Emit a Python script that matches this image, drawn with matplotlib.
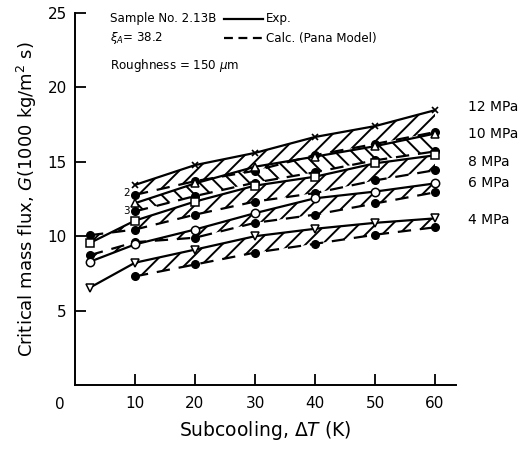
import matplotlib
matplotlib.use("Agg")
import matplotlib.pyplot as plt
import numpy as np

plt.rcParams['font.family'] = ['DejaVu Sans']
plt.rcParams['hatch.linewidth'] = 1.4

# ── Data ──────────────────────────────────────────────────────────────────────
DT_LOW = [2.5, 10, 20, 30, 40, 50, 60]   # subcooling, K (runs starting near 0)
DT_HIGH = [10, 20, 30, 40, 50, 60]       # subcooling, K (runs starting at 10)

# Experimental values (open markers, solid lines), G in 1000 kg/m2 s
EXP_12 = [13.45, 14.78, 15.6, 16.67, 17.4, 18.47]
EXP_10 = [12.22, 13.55, 14.67, 15.35, 16.05, 16.9]
EXP_8 = [9.55, 11.05, 12.33, 13.4, 14.0, 14.9, 15.44]
EXP_6 = [8.29, 9.45, 10.45, 11.55, 12.55, 13.0, 13.55]
EXP_4 = [6.55, 8.22, 9.1, 10.0, 10.5, 10.9, 11.2]

# Calculated values, Pana model (filled circles, dashed lines)
CALC_12 = [12.78, 13.7, 14.4, 15.45, 16.2, 17.0]
CALC_10 = [11.67, 12.7, 13.6, 14.3, 15.1, 15.7]
CALC_8 = [10.07, 10.45, 11.45, 12.33, 12.9, 13.75, 14.44]
CALC_6 = [8.73, 9.6, 9.9, 10.9, 11.45, 12.2, 12.95]
CALC_4 = [7.3, 8.1, 8.9, 9.49, 10.1, 10.6]

LABELS = ["12 MPa", "10 MPa", "8 MPa", "6 MPa", "4 MPa"]
LABEL_Y = [18.7, 16.9, 15.0, 13.6, 11.1]

# ── Figure ────────────────────────────────────────────────────────────────────
fig = plt.figure(figsize=(5.27, 4.51), dpi=100, facecolor="white")
ax = fig.add_axes([0.1423, 0.1463, 0.723, 0.8248])

series = [
    (DT_HIGH, EXP_12, DT_HIGH, CALC_12, "x", "//"),
    (DT_HIGH, EXP_10, DT_HIGH, CALC_10, "^", "\\\\"),
    (DT_LOW, EXP_8, DT_LOW, CALC_8, "s", "//"),
    (DT_LOW, EXP_6, DT_LOW, CALC_6, "o", "//"),
    (DT_LOW, EXP_4, DT_HIGH, CALC_4, "v", "//"),
]

for dt_e, exp, dt_c, calc, mk, hatch in series:
    # hatched band only where both curves exist
    n = len(dt_c)
    ax.fill_between(dt_e[-n:], exp[-n:], calc, facecolor="none",
                    edgecolor="black", hatch=hatch, linewidth=0)
    ax.plot(dt_e, exp, color="black", lw=1.6, zorder=3)
    ax.plot(dt_c, calc, color="black", lw=1.6, ls=(0, (6, 4)), zorder=3)
    ax.plot(dt_c, calc, ls="none", marker="o", ms=5.5, color="black", zorder=4)
    if mk == "x":
        ax.plot(dt_e, exp, ls="none", marker="x", ms=5, mew=1.2,
                color="black", zorder=5)
    else:
        ax.plot(dt_e, exp, ls="none", marker=mk, ms=6, mfc="white",
                mec="black", mew=1.1, zorder=5)

for lab, y in zip(LABELS, LABEL_Y):
    ax.text(65.5, y, lab, fontsize=10, va="center", ha="left", clip_on=False)

ax.text(8.6, 12.9, "2", fontsize=7.5, ha="center", va="center")
ax.text(8.6, 11.7, "3", fontsize=7.5, ha="center", va="center")

# legend / sample info block
ax.text(5.8, 24.6, "Sample No. 2.13B", fontsize=8.6, va="center")
ax.text(5.8, 23.3, r"$\xi_A$= 38.2", fontsize=8.6, va="center")
ax.text(5.8, 21.5, r"Roughness = 150 $\mu$m", fontsize=8.6, va="center")
ax.plot([24.9, 31.3], [24.6, 24.6], color="black", lw=1.6, clip_on=False)
ax.plot([24.9, 31.3], [23.3, 23.3], color="black", lw=1.6, ls=(0, (4, 2.5)))
ax.text(31.8, 24.6, "Exp.", fontsize=8.6, va="center")
ax.text(31.8, 23.3, "Calc. (Pana Model)", fontsize=8.6, va="center")

ax.set_xlim(0, 63.5)
ax.set_ylim(0, 25)
ax.set_xticks([10, 20, 30, 40, 50, 60])
ax.set_yticks([5, 10, 15, 20, 25])
ax.tick_params(direction="in", length=8, width=1.3, labelsize=11, pad=8)
ax.tick_params(axis="y", pad=6)
ax.text(-2.5, -0.8, "0", fontsize=11, ha="center", va="top", clip_on=False)
for s in ["top", "right"]:
    ax.spines[s].set_visible(False)
for s in ["left", "bottom"]:
    ax.spines[s].set_linewidth(1.4)

ax.set_xlabel(r"Subcooling, $\Delta T$ (K)", fontsize=13.5, labelpad=6)
ax.set_ylabel(r"Critical mass flux, $G$(1000 kg/m$^2$ s)", fontsize=13,
              labelpad=6)

fig.savefig("out.png", dpi=100, facecolor="white")
